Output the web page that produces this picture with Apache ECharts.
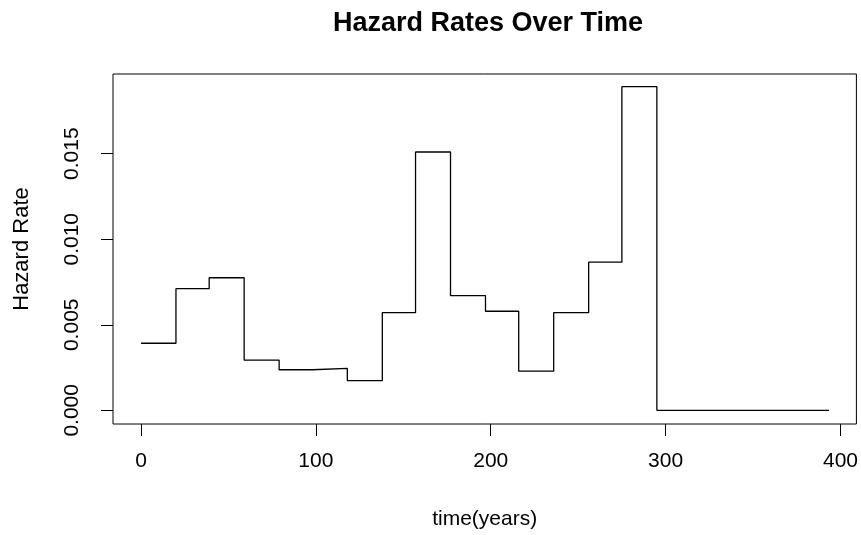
<!DOCTYPE html>
<html>
<head>
<meta charset="utf-8">
<script src="https://cdn.jsdelivr.net/npm/echarts@6/dist/echarts.min.js"></script>
<style>
html,body{margin:0;padding:0;background:#fff;}
#chart{width:861px;height:535px;}
</style>
</head>
<body>
<div id="chart"></div>
<script>
// Interval start times (years) and hazard rate for each interval; last point closes the final step
const times  = [0, 20, 39, 59, 79, 98, 118, 138, 157, 177, 197, 216, 236, 256, 275, 295, 393.5];
const hazard = [0.00392, 0.00711, 0.00775, 0.00293, 0.00237, 0.00245, 0.00173, 0.00571, 0.01510,
                0.00670, 0.00579, 0.00229, 0.00571, 0.00866, 0.01892, 0.0, 0.0];
const xTicks = [0, 100, 200, 300, 400];
const yTicks = [0, 0.005, 0.010, 0.015];

const FONT = 'Liberation Sans, Arial, sans-serif';
const chart = echarts.init(document.getElementById('chart'), null, {renderer: 'canvas'});
chart.setOption({
  animation: false,
  backgroundColor: '#ffffff',
  title: {
    text: 'Hazard Rates Over Time',
    left: 483,
    textAlign: 'center',
    top: 5,
    textStyle: {fontFamily: FONT, fontSize: 27, fontWeight: 'bold', color: '#000'}
  },
  grid: {
    left: 113, top: 74, width: 744, height: 351,
    show: true, borderColor: '#000', borderWidth: 1, backgroundColor: 'transparent'
  },
  xAxis: {
    type: 'value',
    min: -16, max: 409.1,
    name: 'time(years)',
    nameLocation: 'middle',
    nameGap: 85,
    nameTextStyle: {fontFamily: FONT, fontSize: 21, color: '#000'},
    axisLine: {show: false, onZero: false},
    splitLine: {show: false},
    axisTick: {show: true, inside: false, length: 12, customValues: xTicks,
               lineStyle: {color: '#000', width: 1}},
    axisLabel: {show: true, customValues: xTicks, margin: 27,
                fontFamily: FONT, fontSize: 21, color: '#000'}
  },
  yAxis: {
    type: 'value',
    min: -0.0008, max: 0.01966,
    name: 'Hazard Rate',
    nameLocation: 'middle',
    nameGap: 80,
    nameRotate: 90,
    nameTextStyle: {fontFamily: FONT, fontSize: 22, color: '#000'},
    axisLine: {show: false, onZero: false},
    splitLine: {show: false},
    axisTick: {show: true, inside: false, length: 12, customValues: yTicks,
               lineStyle: {color: '#000', width: 1}},
    axisLabel: {show: true, customValues: yTicks, rotate: 90, margin: 30,
                fontFamily: FONT, fontSize: 21, color: '#000',
                formatter: v => v.toFixed(3)}
  },
  series: [{
    type: 'line',
    step: 'end',
    symbol: 'none',
    data: times.map((t, i) => [t, hazard[i]]),
    lineStyle: {color: '#000', width: 1.3},
    silent: true
  }]
});
</script>
</body>
</html>
